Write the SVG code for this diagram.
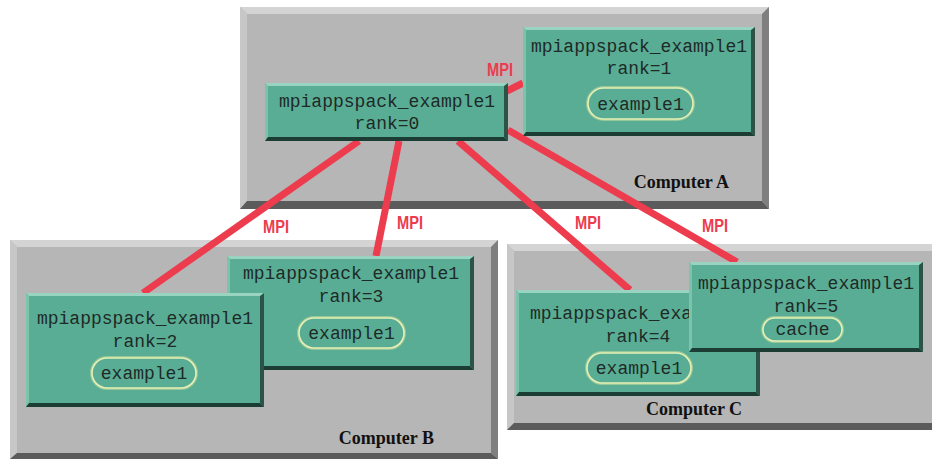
<svg xmlns="http://www.w3.org/2000/svg" width="932" height="459" viewBox="0 0 932 459">
<style>
.cfill{fill:#b5b6b5}
.clt{fill:#d3d4d3}
.cll{fill:#c6c7c6}
.cdb{fill:#5a5b5a}
.cdr{fill:#7e7f7e}
.clabel{font-family:"Liberation Serif","Times New Roman",serif;font-weight:bold;font-size:18px;fill:#111}
.nfill{fill:#5aad95}
.nlt{fill:#98d4bf}
.nll{fill:#7cc3ab}
.ndb{fill:#1c3d33}
.ndr{fill:#2b5447}
.ntext{font-family:"Liberation Mono","Courier New",monospace;font-size:18px;fill:#1e2a26;text-anchor:middle}
.pillglow{fill:none;stroke:#c9dd9c;stroke-width:4;opacity:0.55}
.pill{fill:#5aad95;stroke:#e6f0b4;stroke-width:1.6}
.conn{stroke:#ec3c4e;stroke-width:7;fill:none}
.mpi{font-family:"Liberation Sans",Arial,sans-serif;font-size:18px;font-weight:bold;fill:#ec3c4e}
</style>

<g id="computerA">
<rect class="cfill" x="240" y="7" width="529" height="202"/>
<polygon class="clt" points="240,7 769,7 762,14 247,14"/>
<polygon class="cll" points="240,7 247,14 247,201 240,209"/>
<polygon class="cdb" points="240,209 247,201 762,201 769,209"/>
<polygon class="cdr" points="769,7 769,209 762,201 762,14"/>
<text class="clabel" x="729" y="188" text-anchor="end">Computer A</text>
</g>

<g id="computerB">
<rect class="cfill" x="10" y="240" width="488" height="219"/>
<polygon class="clt" points="10,240 498,240 491,247 17,247"/>
<polygon class="cll" points="10,240 17,247 17,453 10,459"/>
<polygon class="cdb" points="10,459 17,453 491,453 498,459"/>
<polygon class="cdr" points="498,240 498,459 491,453 491,247"/>
<text class="clabel" x="434" y="444" text-anchor="end">Computer B</text>
</g>

<g id="computerC">
<rect class="cfill" x="507" y="244" width="430" height="186"/>
<polygon class="clt" points="507,244 937,244 937,251 514,251"/>
<polygon class="cll" points="507,244 514,251 514,423 507,430"/>
<polygon class="cdb" points="507,430 514,423 937,423 937,430"/>
<text class="clabel" x="694" y="415" text-anchor="middle">Computer C</text>
</g>

<g id="connectors">
<line class="conn" x1="507" y1="91" x2="523" y2="83"/>
<line class="conn" x1="359" y1="141" x2="143" y2="293"/>
<line class="conn" x1="399" y1="141" x2="376" y2="256"/>
<line class="conn" x1="458" y1="141" x2="630" y2="290"/>
<line class="conn" x1="508" y1="130" x2="737" y2="262"/>
<text class="mpi" x="487" y="76" textLength="26" lengthAdjust="spacingAndGlyphs">MPI</text>
<text class="mpi" x="263" y="233" textLength="26" lengthAdjust="spacingAndGlyphs">MPI</text>
<text class="mpi" x="397" y="229" textLength="26" lengthAdjust="spacingAndGlyphs">MPI</text>
<text class="mpi" x="575" y="229" textLength="26" lengthAdjust="spacingAndGlyphs">MPI</text>
<text class="mpi" x="702" y="232" textLength="26" lengthAdjust="spacingAndGlyphs">MPI</text>
</g>

<g id="rank1">
<rect class="nfill" x="523" y="27" width="232" height="109"/>
<polygon class="nlt" points="523,27 755,27 752,30 526,30"/>
<polygon class="nll" points="523,27 526,30 526,132 523,136"/>
<polygon class="ndb" points="523,136 526,132 751,132 755,136"/>
<polygon class="ndr" points="755,27 755,136 751,132 751,30"/>
<text class="ntext" x="639" y="52">mpiappspack_example1</text>
<text class="ntext" x="639" y="74">rank=1</text>
<rect class="pillglow" x="588" y="88" width="105" height="31" rx="15.5"/>
<rect class="pill" x="588" y="88" width="105" height="31" rx="15.5"/>
<text class="ntext" x="640.5" y="110">example1</text>
</g>

<g id="rank0">
<rect class="nfill" x="265" y="83" width="243" height="58"/>
<polygon class="nlt" points="265,83 508,83 505,86 268,86"/>
<polygon class="nll" points="265,83 268,86 268,137 265,141"/>
<polygon class="ndb" points="265,141 268,137 504,137 508,141"/>
<polygon class="ndr" points="508,83 508,141 504,137 504,86"/>
<text class="ntext" x="387" y="107">mpiappspack_example1</text>
<text class="ntext" x="387" y="129">rank=0</text>
</g>

<g id="rank3">
<rect class="nfill" x="227" y="256" width="247" height="114"/>
<polygon class="nlt" points="227,256 474,256 471,259 230,259"/>
<polygon class="nll" points="227,256 230,259 230,366 227,370"/>
<polygon class="ndb" points="227,370 230,366 470,366 474,370"/>
<polygon class="ndr" points="474,256 474,370 470,366 470,259"/>
<text class="ntext" x="351" y="279">mpiappspack_example1</text>
<text class="ntext" x="351" y="302">rank=3</text>
<rect class="pillglow" x="299" y="318" width="105" height="30" rx="15"/>
<rect class="pill" x="299" y="318" width="105" height="30" rx="15"/>
<text class="ntext" x="351.5" y="339">example1</text>
</g>

<g id="rank2">
<rect class="nfill" x="26" y="293" width="238" height="114"/>
<polygon class="nlt" points="26,293 264,293 261,296 29,296"/>
<polygon class="nll" points="26,293 29,296 29,403 26,407"/>
<polygon class="ndb" points="26,407 29,403 260,403 264,407"/>
<polygon class="ndr" points="264,293 264,407 260,403 260,296"/>
<text class="ntext" x="145" y="324">mpiappspack_example1</text>
<text class="ntext" x="145" y="347">rank=2</text>
<rect class="pillglow" x="92" y="358" width="104" height="30" rx="15"/>
<rect class="pill" x="92" y="358" width="104" height="30" rx="15"/>
<text class="ntext" x="144" y="379">example1</text>
</g>

<g id="rank4">
<rect class="nfill" x="516" y="290" width="244" height="106"/>
<polygon class="nlt" points="516,290 760,290 757,293 519,293"/>
<polygon class="nll" points="516,290 519,293 519,392 516,396"/>
<polygon class="ndb" points="516,396 519,392 756,392 760,396"/>
<polygon class="ndr" points="760,290 760,396 756,392 756,293"/>
<text class="ntext" x="638" y="319">mpiappspack_example1</text>
<text class="ntext" x="638" y="342">rank=4</text>
<rect class="pillglow" x="587" y="353" width="104" height="30" rx="15"/>
<rect class="pill" x="587" y="353" width="104" height="30" rx="15"/>
<text class="ntext" x="639" y="374">example1</text>
</g>

<g id="rank5">
<rect class="nfill" x="689" y="262" width="234" height="90"/>
<polygon class="nlt" points="689,262 923,262 920,265 692,265"/>
<polygon class="nll" points="689,262 692,265 692,348 689,352"/>
<polygon class="ndb" points="689,352 692,348 919,348 923,352"/>
<polygon class="ndr" points="923,262 923,352 919,348 919,265"/>
<text class="ntext" x="806" y="289">mpiappspack_example1</text>
<text class="ntext" x="806" y="312">rank=5</text>
<rect class="pillglow" x="763" y="318" width="79" height="23" rx="11.5"/>
<rect class="pill" x="763" y="318" width="79" height="23" rx="11.5"/>
<text class="ntext" x="802.5" y="335">cache</text>
</g>
</svg>
